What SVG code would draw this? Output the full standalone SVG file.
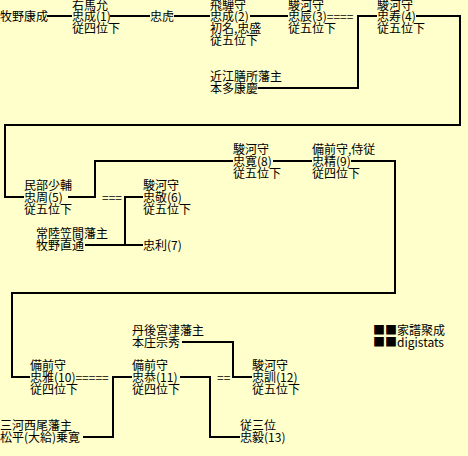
<svg xmlns="http://www.w3.org/2000/svg" width="468" height="456" viewBox="0 0 468 456">
<style>
text{font-family:"Noto Sans CJK JP","Noto Sans",sans-serif;font-size:12px;fill:#000}
.c{fill:none;stroke:#000;stroke-width:2}
</style>
<rect width="468" height="456" fill="#FFFFCC"/>
<g id="connectors">
<path class="c" d="M47 16H72M110 16H150M174 16H210M250 16H288"/>
<path class="c" d="M258 88H358V16H377"/>
<path class="c" d="M416 16H460V125H5V197H24"/>
<path class="c" d="M68 197H95V161H233M273 161H312"/>
<path class="c" d="M351 161H395V293H12V377H30"/>
<path class="c" d="M143 197H125V245H143M85 245H125"/>
<path class="c" d="M132 377H113V437H83"/>
<path class="c" d="M180 377H210V437H240"/>
<path class="c" d="M182 342H233V377H252"/>
</g>
<g id="n0"><text x="0" y="21">牧野康成</text></g>
<g id="n1"><text x="72" y="10">右馬允<tspan x="72" y="21">忠成(1)</tspan><tspan x="72" dy="12">従四位下</tspan></text></g>
<g id="n1b"><text x="150" y="21">忠虎</text></g>
<g id="n2"><text x="210" y="10">飛騨守<tspan x="210" y="21">忠成(2)</tspan><tspan x="210" dy="12">初名,忠盛</tspan><tspan x="210" dy="12">従五位下</tspan></text></g>
<g id="n3"><text x="288" y="10">駿河守<tspan x="288" y="21">忠辰(3)====</tspan><tspan x="288" dy="12">従五位下</tspan></text></g>
<g id="n3w"><text x="210" y="81">近江膳所藩主<tspan x="210" dy="12">本多康慶</tspan></text></g>
<g id="n4"><text x="377" y="10">駿河守<tspan x="377" y="21">忠寿(4)</tspan><tspan x="377" dy="12">従五位下</tspan></text></g>
<g id="n5"><text x="24" y="190">民部少輔<tspan x="24" dy="12">忠周(5)</tspan><tspan x="24" dy="12">従五位下</tspan></text></g>
<g id="n5w"><text x="102" y="202">===</text></g>
<g id="n5p"><text x="36" y="238">常陸笠間藩主<tspan x="36" dy="12">牧野直通</tspan></text></g>
<g id="n6"><text x="143" y="190">駿河守<tspan x="143" dy="12">忠敬(6)</tspan><tspan x="143" dy="12">従五位下</tspan></text></g>
<g id="n7"><text x="143" y="250">忠利(7)</text></g>
<g id="n8"><text x="233" y="154">駿河守<tspan x="233" dy="12">忠寛(8)</tspan><tspan x="233" dy="12">従五位下</tspan></text></g>
<g id="n9"><text x="312" y="154">備前守,侍従<tspan x="312" dy="12">忠精(9)</tspan><tspan x="312" dy="12">従四位下</tspan></text></g>
<g id="n10"><text x="30" y="370">備前守<tspan x="30" dy="12">忠雅(10)=====</tspan><tspan x="30" dy="12">従四位下</tspan></text></g>
<g id="n10p"><text x="0" y="430">三河西尾藩主<tspan x="0" dy="12">松平(大給)乗寛</tspan></text></g>
<g id="n11"><text x="132" y="370">備前守<tspan x="132" dy="12">忠恭(11)</tspan><tspan x="132" dy="12">従四位下</tspan></text></g>
<g id="n11w"><text x="217" y="382">==</text></g>
<g id="n11p"><text x="132" y="335">丹後宮津藩主<tspan x="132" dy="12">本庄宗秀</tspan></text></g>
<g id="n12"><text x="252" y="370">駿河守<tspan x="252" dy="12">忠訓(12)</tspan><tspan x="252" dy="12">従五位下</tspan></text></g>
<g id="n13"><text x="240" y="430">従三位<tspan x="240" dy="12">忠毅(13)</tspan></text></g>
<g id="legend"><text x="373" y="335">■■家譜聚成<tspan x="373" dy="12">■■digistats</tspan></text></g>
</svg>
